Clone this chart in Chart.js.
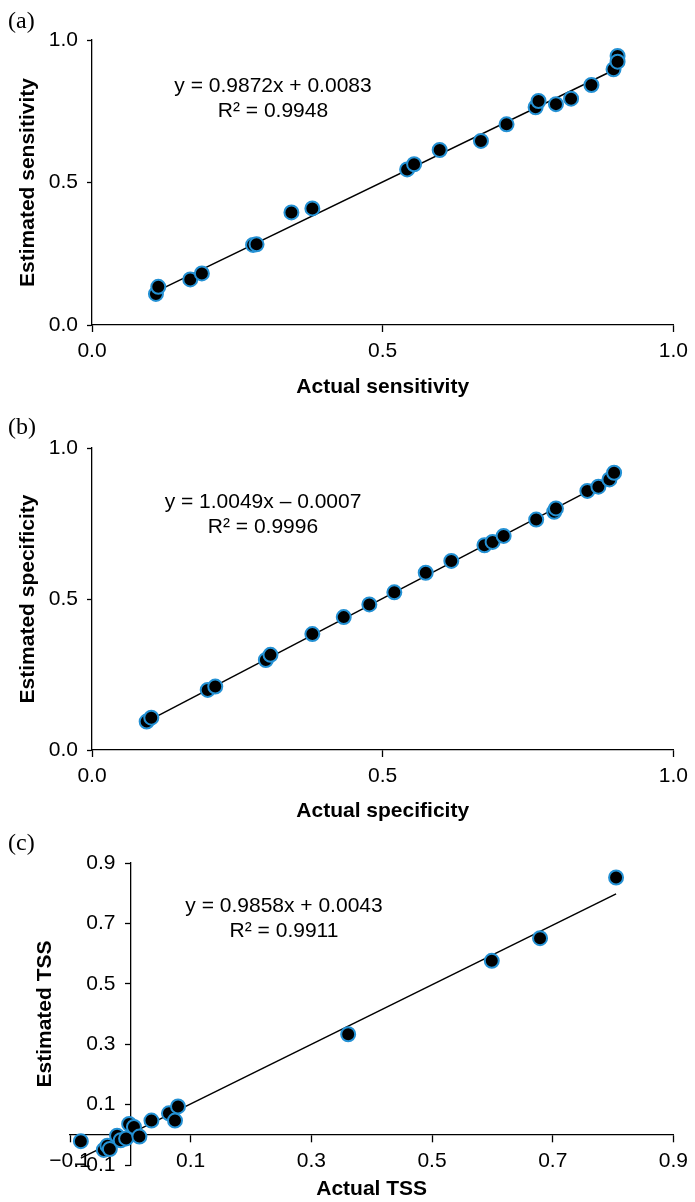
<!DOCTYPE html>
<html>
<head>
<meta charset="utf-8">
<script src="https://cdn.jsdelivr.net/npm/chart.js@4.4.1/dist/chart.umd.min.js"></script>
<style>
  body { margin: 0; background: #fff; }
  #page { position: relative; width: 695px; height: 1202px; }
  canvas { position: absolute; left: 0; }
  .tag { position: absolute; left: 8px; z-index: 2; font: 24px "Liberation Serif", "Times New Roman", serif; color: #000; }
</style>
</head>
<body>
<div id="page">
  <div class="tag" style="top:7px">(a)</div>
  <div class="tag" style="top:413px">(b)</div>
  <div class="tag" style="top:829px">(c)</div>
  <canvas id="chartA" width="695" height="400" style="top:0px"></canvas>
  <canvas id="chartB" width="695" height="424" style="top:400px"></canvas>
  <canvas id="chartC" width="695" height="378" style="top:824px"></canvas>
</div>
<script>
// (a) sensitivity
const sensActual    = [0.110, 0.114, 0.169, 0.189, 0.277, 0.283, 0.343, 0.379, 0.542, 0.554, 0.598, 0.669, 0.713, 0.763, 0.768, 0.798, 0.824, 0.859, 0.897, 0.904, 0.904];
const sensEstimated = [0.109, 0.134, 0.160, 0.181, 0.281, 0.283, 0.395, 0.409, 0.546, 0.564, 0.614, 0.646, 0.704, 0.764, 0.786, 0.775, 0.794, 0.842, 0.897, 0.944, 0.924];
const sensTrendX = [0.110, 0.904];
const sensTrendY = [0.117, 0.901];
const sensEquation = ['y = 0.9872x + 0.0083', 'R\u00b2 = 0.9948'];

// (b) specificity
const specActual    = [0.094, 0.102, 0.199, 0.212, 0.299, 0.307, 0.379, 0.433, 0.477, 0.520, 0.574, 0.618, 0.675, 0.689, 0.708, 0.764, 0.795, 0.798, 0.852, 0.871, 0.890, 0.898];
const specEstimated = [0.094, 0.107, 0.199, 0.210, 0.298, 0.315, 0.384, 0.440, 0.482, 0.522, 0.587, 0.626, 0.678, 0.689, 0.709, 0.763, 0.789, 0.800, 0.858, 0.872, 0.896, 0.918];
const specTrendX = [0.094, 0.898];
const specTrendY = [0.094, 0.902];
const specEquation = ['y = 1.0049x \u2013 0.0007', 'R\u00b2 = 0.9996'];

// (c) TSS
const tssActual    = [-0.082, -0.044, -0.038, -0.034, -0.022, -0.016, -0.007, -0.002, 0.006, 0.015, 0.035, 0.064, 0.074, 0.079, 0.361, 0.599, 0.679, 0.805];
const tssEstimated = [-0.021, -0.050, -0.036, -0.047, -0.003, -0.018, -0.012, 0.036, 0.026, -0.006, 0.047, 0.071, 0.047, 0.094, 0.333, 0.576, 0.651, 0.852];
const tssTrendX = [-0.082, 0.805];
const tssTrendY = [-0.077, 0.798];
const tssEquation = ['y = 0.9858x + 0.0043', 'R\u00b2 = 0.9911'];

const FONT = '"Liberation Sans", Arial, sans-serif';
const tickFont = { family: FONT, size: 21 };
const titleFont = { family: FONT, size: 21, weight: 'bold' };

function fmt(v) {
  return (Math.abs(v) < 1e-9 ? 0 : v).toFixed(1).replace('-', '\u2212');
}

function toPoints(xs, ys) {
  return xs.map((x, i) => ({ x: x, y: ys[i] }));
}

const equationLabel = {
  id: 'equationLabel',
  afterDatasetsDraw(chart, args, opts) {
    const ctx = chart.ctx;
    ctx.save();
    ctx.font = '21px ' + FONT;
    ctx.fillStyle = '#000';
    ctx.textAlign = 'center';
    ctx.textBaseline = 'middle';
    opts.lines.forEach((line, i) => ctx.fillText(line, opts.x, opts.y + i * 25));
    ctx.restore();
  }
};

function axis(min, max, step, tickLength, padding) {
  return {
    type: 'linear',
    min: min,
    max: max,
    grid: { display: true, drawOnChartArea: false, drawTicks: true, tickLength: tickLength, tickColor: '#000', tickWidth: 1.3 },
    border: { display: true, color: '#000', width: 1.3 },
    ticks: { stepSize: step, color: '#000', font: tickFont, padding: padding, callback: fmt, maxRotation: 0, autoSkip: false }
  };
}

function datasets(xs, ys, tx, ty) {
  return [
    {
      data: toPoints(xs, ys), xAxisID: 'x', yAxisID: 'y',
      backgroundColor: '#000', borderColor: '#2491d4', borderWidth: 2,
      pointRadius: 7, pointHoverRadius: 7, order: 0
    },
    {
      data: toPoints(tx, ty), xAxisID: 'x', yAxisID: 'y',
      showLine: true, borderColor: '#000', borderWidth: 1.5, pointRadius: 0, order: 1
    }
  ];
}

function basicPanel(id, xs, ys, tx, ty, xTitle, yTitle, eq, eqX, eqY, padTop, xHeight) {
  const x = axis(0, 1, 0.5, 7, 7);
  x.title = { display: true, text: xTitle, font: titleFont, color: '#000', padding: 0 };
  x.afterFit = (s) => { s.height = xHeight; };
  const y = axis(0, 1, 0.5, 5, 9);
  y.title = { display: true, text: yTitle, font: titleFont, color: '#000', padding: 0 };
  y.afterFit = (s) => { s.width = 76; };
  new Chart(document.getElementById(id), {
    type: 'scatter',
    data: { datasets: datasets(xs, ys, tx, ty) },
    options: {
      responsive: false,
      animation: false,
      layout: { padding: { left: 16, right: 16, top: padTop, bottom: 0 } },
      scales: { x: x, y: y },
      plugins: {
        legend: { display: false },
        tooltip: { enabled: false },
        equationLabel: { lines: eq, x: eqX, y: eqY }
      }
    },
    plugins: [equationLabel]
  });
}

basicPanel('chartA', sensActual, sensEstimated, sensTrendX, sensTrendY,
  'Actual sensitivity', 'Estimated sensitivity', sensEquation, 273, 86, 40, 75);
basicPanel('chartB', specActual, specEstimated, specTrendX, specTrendY,
  'Actual specificity', 'Estimated specificity', specEquation, 263, 102, 48, 74);

// (c): axes cross at zero; titles and y labels come from plain left/bottom scales
const xC = axis(-0.1, 0.9, 0.2, 7, 7);
xC.position = { y: 0 };
const yC = axis(-0.1, 0.9, 0.2, 5, 0);
yC.position = { x: 0 };
yC.ticks.display = false;

const xTitleC = {
  type: 'linear', axis: 'x', position: 'bottom',
  grid: { display: false }, border: { display: false }, ticks: { display: false },
  title: { display: true, text: 'Actual TSS', font: titleFont, color: '#000', padding: 0 },
  afterFit: (s) => { s.height = 37; }
};
// left scale with the same range; mirrored labels so they sit beside the y axis at x = 0
const yTitleC = {
  type: 'linear', axis: 'y', position: 'left', min: -0.1, max: 0.9,
  grid: { display: false }, border: { display: false },
  ticks: { stepSize: 0.2, color: '#000', font: tickFont, mirror: true, crossAlign: 'far', padding: 4, callback: fmt, autoSkip: false },
  title: { display: true, text: 'Estimated TSS', font: titleFont, color: '#000', padding: 0 },
  afterFit: (s) => { s.width = 37; }
};

new Chart(document.getElementById('chartC'), {
  type: 'scatter',
  data: { datasets: datasets(tssActual, tssEstimated, tssTrendX, tssTrendY) },
  options: {
    responsive: false,
    animation: false,
    layout: { padding: { left: 33, right: 16, top: 39, bottom: 0 } },
    scales: { x: xC, y: yC, xT: xTitleC, yT: yTitleC },
    plugins: {
      legend: { display: false },
      tooltip: { enabled: false },
      equationLabel: { lines: tssEquation, x: 284, y: 82 }
    }
  },
  plugins: [equationLabel]
});
</script>
</body>
</html>
